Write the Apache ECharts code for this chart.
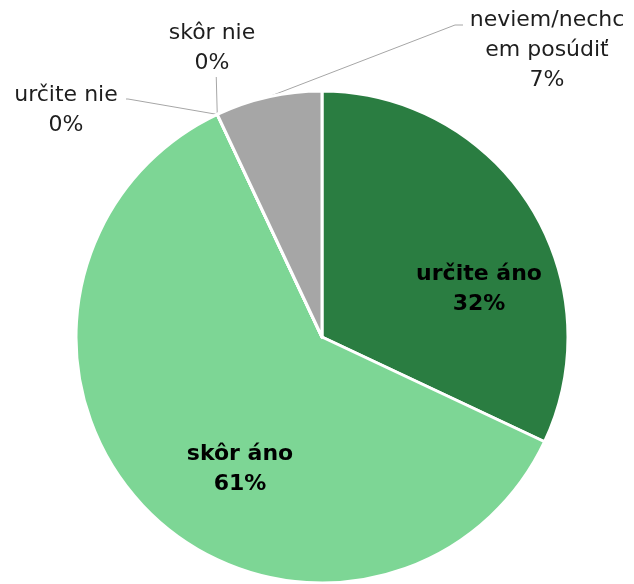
<!DOCTYPE html>
<html>
<head>
<meta charset="utf-8">
<script src="https://cdn.jsdelivr.net/npm/echarts@6/dist/echarts.min.js"></script>
<style>html,body{margin:0;padding:0;background:#fff}#c{width:634px;height:584px}</style>
</head>
<body>
<div id="c"></div>
<script>
var categories = ['určite áno', 'skôr áno', 'skôr nie', 'určite nie', 'neviem/nechcem posúdiť'];
var labelTexts = ['určite áno', 'skôr áno', 'skôr nie', 'určite nie', 'neviem/nechc\nem posúdiť'];
var values = [32, 61, 0, 0, 7];
var colors = ['#2A7D41', '#7DD695', '#5B9BD5', '#ED7D31', '#A6A6A6'];

var chart = echarts.init(document.getElementById('c'), null, {renderer: 'canvas'});
var data = categories.map(function (n, i) {
  var inside = i < 2;
  return {
    name: n,
    value: values[i],
    itemStyle: {color: colors[i]},
    label: inside ? {position: 'inside', fontWeight: 'bold', color: '#000'} : {position: 'outside', color: '#1e1e1e'},
    labelLine: {show: !inside}
  };
});
// label anchor positions (x, y) of label block centers
var labelPos = [[479, 289], [240, 469], [212, 48], [66, 110], [547, 50]];
chart.setOption({
  animation: false,
  series: [{
    type: 'pie',
    center: [322, 337],
    radius: 246,
    startAngle: 90,
    clockwise: true,
    avoidLabelOverlap: false,
    minShowLabelAngle: 0,
    itemStyle: {borderColor: '#fff', borderWidth: 3},
    label: {
      fontFamily: 'DejaVu Sans',
      fontSize: 22,
      lineHeight: 30,
      align: 'center',
      formatter: function (p) { return labelTexts[p.dataIndex] + '\n' + p.value + '%'; }
    },
    labelLine: {lineStyle: {color: '#A6A6A6', width: 1}, length: 10, length2: 10},
    labelLayout: function (p) {
      var i = p.dataIndex;
      var pos = labelPos[i];
      var res = {x: pos[0], y: pos[1], align: 'center', verticalAlign: 'middle'};
      if (i >= 2 && p.labelLinePoints) {
        var s = p.labelLinePoints[0];
        if (i === 2) res.labelLinePoints = [[s[0], s[1]], [s[0] - 1, 77], [s[0] - 1, 77]];
        if (i === 3) res.labelLinePoints = [[s[0], s[1]], [128, 99], [126, 99]];
        if (i === 4) res.labelLinePoints = [[s[0], s[1]], [455, 25], [463, 25]];
      }
      return res;
    },
    data: data
  }]
});
</script>
</body>
</html>
